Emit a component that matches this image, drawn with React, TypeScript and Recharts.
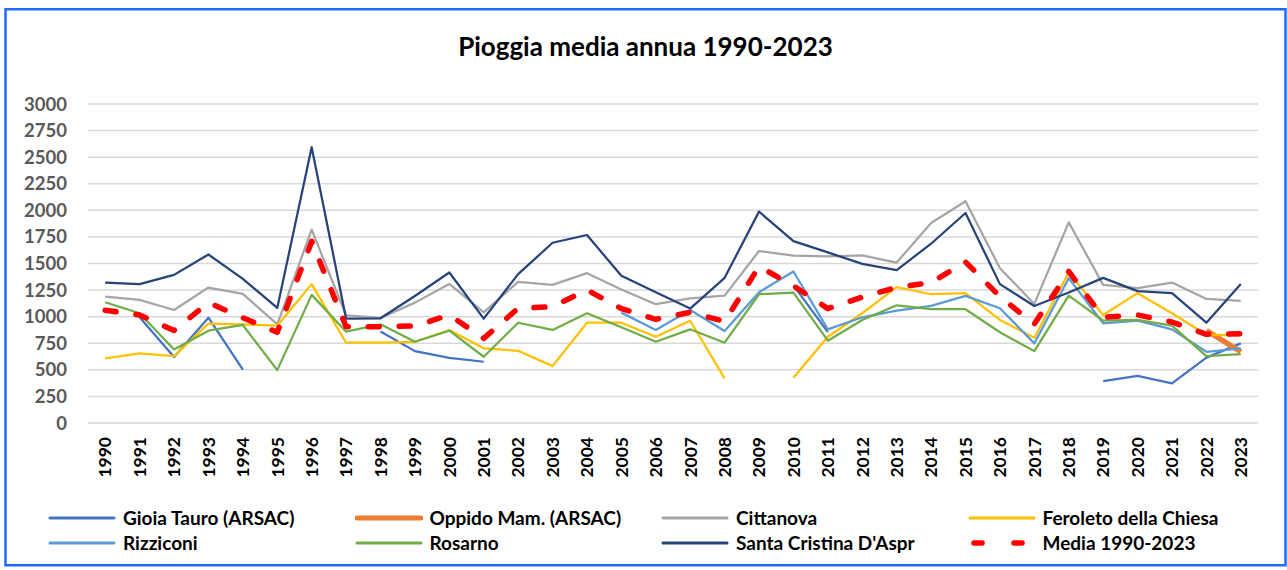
import { LineChart, Line, XAxis, YAxis, CartesianGrid, Legend } from 'recharts';

const YEARS = [
  '1990', '1991', '1992', '1993', '1994', '1995', '1996', '1997', '1998', '1999',
  '2000', '2001', '2002', '2003', '2004', '2005', '2006', '2007', '2008', '2009',
  '2010', '2011', '2012', '2013', '2014', '2015', '2016', '2017', '2018', '2019',
  '2020', '2021', '2022', '2023',
];

const Y_TICKS = [0, 250, 500, 750, 1000, 1250, 1500, 1750, 2000, 2250, 2500, 2750, 3000];

// mm di pioggia; null = anno mancante
const GIOIA = [
  null, 994, 620, 990, 503, null, null, null, 860, 676,
  613, 576, null, null, null, null, null, null, null, null,
  1295, 855, null, null, null, null, null, null, null, 393,
  444, 372, 615, 749,
];
const OPPIDO = [
  null, null, null, null, null, null, null, null, null, null,
  null, null, null, null, null, null, null, null, null, null,
  null, null, null, null, null, null, null, null, null, null,
  null, null, 870, 670,
];
const CITTANOVA = [
  1189, 1158, 1063, 1274, 1214, 928, 1818, 1013, 988, 1132,
  1308, 1041, 1327, 1299, 1409, 1255, 1117, 1173, 1198, 1617,
  1573, 1566, 1576, 1509, 1881, 2085, 1456, 1120, 1887, 1299,
  1268, 1321, 1167, 1148,
];
const FEROLETO = [
  607, 655, 629, 935, 928, 915, 1306, 755, 755, 764,
  875, 702, 679, 535, 943, 943, 811, 962, 419, null,
  425, 811, 1032, 1277, 1211, 1221, 969, 802, 1415, 1016,
  1221, 1032, 830, 825,
];
const RIZZICONI = [
  null, null, null, null, null, null, null, null, null, null,
  null, null, null, null, null, 1038, 875, 1063, 865, 1230,
  1425, 881, 994, 1057, 1101, 1195, 1079, 749, 1362, 938,
  962, 881, 670, 702,
];
const ROSARNO = [
  1136, 1032, 692, 868, 922, 497, 1205, 859, 928, 764,
  868, 623, 943, 875, 1032, 900, 764, 881, 755, 1211,
  1227, 774, 969, 1107, 1072, 1070, 853, 676, 1198, 962,
  969, 915, 629, 648,
];
const SANTA_CRISTINA = [
  1320, 1306, 1393, 1585, 1356, 1082, 2594, 981, 985, 1195,
  1415, 981, 1400, 1695, 1768, 1384, 1230, 1076, 1365, 1988,
  1711, 1604, 1497, 1438, 1686, 1975, 1306, 1101, 1227, 1365,
  1240, 1221, 943, 1308,
];
const MEDIA = [
  1060, 1016, 870, 1132, 990, 853, 1708, 906, 906, 912,
  1016, 796, 1079, 1094, 1252, 1076, 975, 1041, 955, 1472,
  1290, 1076, 1185, 1275, 1320, 1515, 1189, 930, 1425, 994,
  1016, 950, 834, 840,
];

const FONT = 'Lato, "Open Sans", sans-serif';
const DASH = '11 20';

const SERIES = [
  { key: 'gioia', name: 'Gioia Tauro (ARSAC)', values: GIOIA, color: '#4472C4', width: 2.25 },
  { key: 'oppido', name: 'Oppido Mam. (ARSAC)', values: OPPIDO, color: '#ED7D31', width: 5.5 },
  { key: 'cittanova', name: 'Cittanova', values: CITTANOVA, color: '#A5A5A5', width: 2.25 },
  { key: 'feroleto', name: 'Feroleto della Chiesa', values: FEROLETO, color: '#FFC000', width: 2.25 },
  { key: 'rizziconi', name: 'Rizziconi', values: RIZZICONI, color: '#5B9BD5', width: 2.25 },
  { key: 'rosarno', name: 'Rosarno', values: ROSARNO, color: '#70AD47', width: 2.25 },
  { key: 'santa', name: "Santa Cristina D'Aspr", values: SANTA_CRISTINA, color: '#264478', width: 2.25 },
  { key: 'media', name: 'Media 1990-2023', values: MEDIA, color: '#FF0000', width: 5.5, dash: DASH },
];

const data = YEARS.map((year, i) => {
  const row: Record<string, string | number | null> = { year };
  SERIES.forEach((s) => {
    row[s.key] = s.values[i];
  });
  return row;
});

function YearTick({ x, y, payload }: any) {
  const ty = y + 14;
  return (
    <text
      x={x}
      y={ty}
      transform={`rotate(-90, ${x}, ${ty})`}
      textAnchor="end"
      dy="0.36em"
      fill="#000"
      fontSize={17.5}
      fontWeight={700}
      fontFamily={FONT}
    >
      {payload.value}
    </text>
  );
}

function LegendBox() {
  return (
    <div
      style={{
        display: 'grid',
        gridTemplateColumns: 'repeat(4, 306.5px)',
        paddingLeft: 48,
        fontFamily: FONT,
      }}
    >
      {SERIES.map((s) => (
        <div key={s.key} style={{ display: 'flex', alignItems: 'center', height: 25 }}>
          <svg width={68} height={10} style={{ display: 'block', flex: 'none' }}>
            <line
              x1={s.dash ? 6 : 2}
              y1={5}
              x2={s.dash ? 62 : 66}
              y2={5}
              stroke={s.color}
              strokeWidth={s.key === 'media' ? 5.5 : s.width === 5.5 ? 5 : 3}
              strokeDasharray={s.dash ? '8 32' : undefined}
              strokeLinecap="round"
            />
          </svg>
          <span style={{ marginLeft: 7, fontSize: 19, fontWeight: 700, color: '#000', whiteSpace: 'nowrap' }}>
            {s.name}
          </span>
        </div>
      ))}
    </div>
  );
}

export default function App() {
  return (
    <div style={{ position: 'relative', width: 1287, height: 570, background: '#fff', overflow: 'hidden' }}>
      <style>{'body { margin: 0; }'}</style>
      <div
        style={{
          position: 'absolute',
          left: 0,
          top: 31,
          width: 1287,
          paddingLeft: 4,
          boxSizing: 'border-box',
          textAlign: 'center',
          fontFamily: FONT,
          fontWeight: 700,
          fontSize: 26,
          lineHeight: '30px',
          color: '#000',
        }}
      >
        Pioggia media annua 1990-2023
      </div>
      <LineChart width={1287} height={570} data={data} margin={{ top: 104, right: 29, bottom: 27, left: 8 }}>
        <CartesianGrid vertical={false} stroke="#D9D9D9" strokeWidth={1.5} />
        <XAxis
          dataKey="year"
          interval={0}
          axisLine={false}
          tickLine={false}
          tickSize={0}
          tickMargin={0}
          height={70}
          padding={{ left: 17.2, right: 17.2 }}
          tick={<YearTick />}
        />
        <YAxis
          domain={[0, 3000]}
          ticks={Y_TICKS}
          width={80}
          axisLine={false}
          tickLine={false}
          tickSize={0}
          tickMargin={21}
          tick={{ fill: '#595959', fontSize: 18.5, fontWeight: 700, fontFamily: FONT }}
        />
        {SERIES.map((s) => (
          <Line
            key={s.key}
            dataKey={s.key}
            name={s.name}
            type="linear"
            stroke={s.color}
            strokeWidth={s.width}
            strokeDasharray={s.dash}
            strokeLinecap={s.dash ? 'round' : 'butt'}
            strokeLinejoin="round"
            dot={false}
            activeDot={false}
            isAnimationActive={false}
          />
        ))}
        <Legend
          content={<LegendBox />}
          wrapperStyle={{ left: 0, top: 505, bottom: 'auto', width: 1287, height: 50 }}
        />
      </LineChart>
      <svg
        width={1287}
        height={570}
        style={{ position: 'absolute', left: 0, top: 0, pointerEvents: 'none' }}
      >
        <rect x={5.5} y={9.25} width={1280} height={556} fill="none" stroke="#1F6BFF" strokeWidth={2.5} />
      </svg>
    </div>
  );
}
